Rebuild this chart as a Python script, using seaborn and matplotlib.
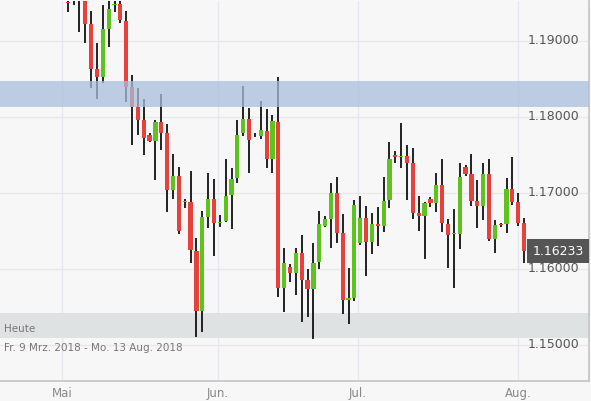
import numpy as np
import matplotlib
matplotlib.use("Agg")
import matplotlib.pyplot as plt
import seaborn as sns

opens = [1.1951,1.1956,1.1961,1.1957,1.1922,1.1863,1.1853,1.1916,1.1948,1.1949,
         1.1926,1.1840,1.1813,1.1796,1.1776,1.1768,1.1793,1.1779,1.1704,1.1722,
         1.1688,1.1688,1.1624,1.1545,1.1668,1.1692,1.1661,1.1663,1.1697,1.1720,
         1.1779,1.1797,1.1778,1.1775,1.1782,1.1745,1.1793,1.1575,1.1603,1.1595,
         1.1621,1.1586,1.1574,1.1609,1.1657,1.1666,1.1700,1.1647,1.1559,1.1562,
         1.1634,1.1667,1.1636,1.1659,1.1657,1.1691,1.1750,1.1748,1.1749,1.1739,
         1.1674,1.1670,1.1692,1.1687,1.1711,1.1659,1.1646,1.1646,1.1734,1.1725,
         1.1689,1.1683,1.1725,1.1639,1.1659,1.1659,1.1705,1.1688,1.1661]
closes = [1.1950,1.1955,1.1957,1.1922,1.1863,1.1853,1.1916,1.1942,1.1949,1.1928,
          1.1840,1.1813,1.1796,1.1772,1.1768,1.1793,1.1779,1.1704,1.1722,1.1650,
          1.1689,1.1625,1.1545,1.1668,1.1692,1.1661,1.1662,1.1696,1.1718,1.1776,
          1.1797,1.1770,1.1777,1.1783,1.1745,1.1795,1.1575,1.1608,1.1595,1.1621,
          1.1586,1.1574,1.1608,1.1659,1.1666,1.1700,1.1647,1.1559,1.1562,1.1684,
          1.1667,1.1636,1.1659,1.1657,1.1689,1.1745,1.1747,1.1749,1.1739,1.1674,
          1.1670,1.1687,1.1687,1.1711,1.1661,1.1645,1.1647,1.1721,1.1725,1.1689,
          1.1683,1.1725,1.1639,1.1658,1.1658,1.1705,1.1688,1.1661,1.16233]
highs = [1.1961,1.1965,1.1974,1.1965,1.1940,1.1897,1.1947,1.1960,1.1954,1.1954,
         1.1940,1.1855,1.1838,1.1824,1.1779,1.1796,1.1830,1.1791,1.1751,1.1734,
         1.1692,1.1729,1.1641,1.1676,1.1726,1.1718,1.1671,1.1745,1.1733,1.1796,
         1.1841,1.1812,1.1779,1.1821,1.1811,1.1803,1.1853,1.1628,1.1607,1.1628,
         1.1645,1.1600,1.1634,1.1676,1.1670,1.1713,1.1721,1.1672,1.1601,1.1691,
         1.1696,1.1683,1.1674,1.1682,1.1721,1.1767,1.1755,1.1792,1.1763,1.1759,
         1.1696,1.1688,1.1695,1.1726,1.1745,1.1666,1.1679,1.1739,1.1737,1.1751,
         1.1717,1.1739,1.1745,1.1664,1.1661,1.1720,1.1747,1.1700,1.1667]
lows = [1.1938,1.1947,1.1912,1.1897,1.1838,1.1824,1.1845,1.1892,1.1938,1.1924,
        1.1820,1.1763,1.1776,1.1750,1.1767,1.1717,1.1757,1.1675,1.1692,1.1646,
        1.1680,1.1608,1.1511,1.1517,1.1654,1.1617,1.1655,1.1662,1.1653,1.1713,
        1.1775,1.1726,1.1774,1.1771,1.1733,1.1726,1.1563,1.1543,1.1583,1.1566,
        1.1530,1.1537,1.1508,1.1600,1.1655,1.1628,1.1634,1.1541,1.1528,1.1558,
        1.1632,1.1591,1.1620,1.1630,1.1649,1.1680,1.1739,1.1733,1.1691,1.1666,
        1.1650,1.1613,1.1682,1.1675,1.1649,1.1601,1.1575,1.1626,1.1722,1.1683,
        1.1654,1.1664,1.1637,1.1621,1.1655,1.1647,1.1684,1.1657,1.1608]

month_labels = ["Mai", "Jun.", "Jul.", "Aug."]
month_pos = [-0.97, 25.7, 49.6, 77.0]
y_ticks = [1.15, 1.16, 1.17, 1.18, 1.19]
last_price = "1.16233"
band_blue = (1.18132, 1.18474)
band_gray = (1.15092, 1.15421)

sns.set_style("white")
plt.rcParams['font.family'] = ['DejaVu Sans']
fig = plt.figure(figsize=(5.91, 4.01), dpi=100)
fig.patch.set_facecolor("#f7f7f7")
ax = fig.add_axes([0, 1 - 381/401, 589/591, 380/401])
ax.set_facecolor("#f7f7f7")

x = np.arange(len(opens))
o = np.array(opens); c = np.array(closes)
up = c >= o
cols = np.where(up, "#5ec31f", "#e8403b")

ax.set_xlim(-11.57, 89.1)
ax.set_ylim(1.145263, 1.195263)

for yt in y_ticks:
    ax.axhline(yt, color="#e9e9ec", lw=1, zorder=0)
for mp in month_pos:
    ax.axvline(mp, color="#e6e8f0", lw=1, zorder=0)

ax.axhspan(*band_blue, color="#a9bedb", alpha=0.75, zorder=4, lw=0)
ax.axhspan(*band_gray, color="#dfe2e3", zorder=1, lw=0)

ax.vlines(x, lows, highs, color="#111111", lw=1.3, zorder=2)
bottom = np.minimum(o, c)
height = np.maximum(np.abs(c - o), 0.00008)
ax.bar(x, height, bottom=bottom, width=0.72, color=cols, zorder=3, lw=0)

for yt in y_ticks:
    ax.text(579/589, yt, f"{yt:.5f}", transform=ax.get_yaxis_transform(),
            ha="right", va="center", fontsize=9, color="#555555", zorder=5)
lp = float(last_price)
ax.text(558/589, lp, last_price, transform=ax.get_yaxis_transform(),
        ha="center", va="center", fontsize=9, color="white", zorder=6,
        bbox=dict(boxstyle="square,pad=0.45", fc="#555555", ec="none"))

ax.text(4/589, 1.1521, "Heute", fontsize=7.5, color="#777777", ha="left", va="center",
        transform=ax.get_yaxis_transform())
ax.text(4/589, 1.1496, "Fr. 9 Mrz. 2018 - Mo. 13 Aug. 2018", fontsize=7.5,
        color="#777777", ha="left", va="center",
        transform=ax.get_yaxis_transform())

ax.set_yticks([])
ax.set_xticks(month_pos)
ax.set_xticklabels(month_labels, fontsize=8.5, color="#888888")
ax.tick_params(axis="x", length=0, pad=4)
for s in ["top", "left"]:
    ax.spines[s].set_visible(False)
for s in ["bottom", "right"]:
    ax.spines[s].set_color("#c4c4c4")
    ax.spines[s].set_linewidth(1.2)

fig.savefig("out.png", dpi=100, facecolor=fig.get_facecolor())
